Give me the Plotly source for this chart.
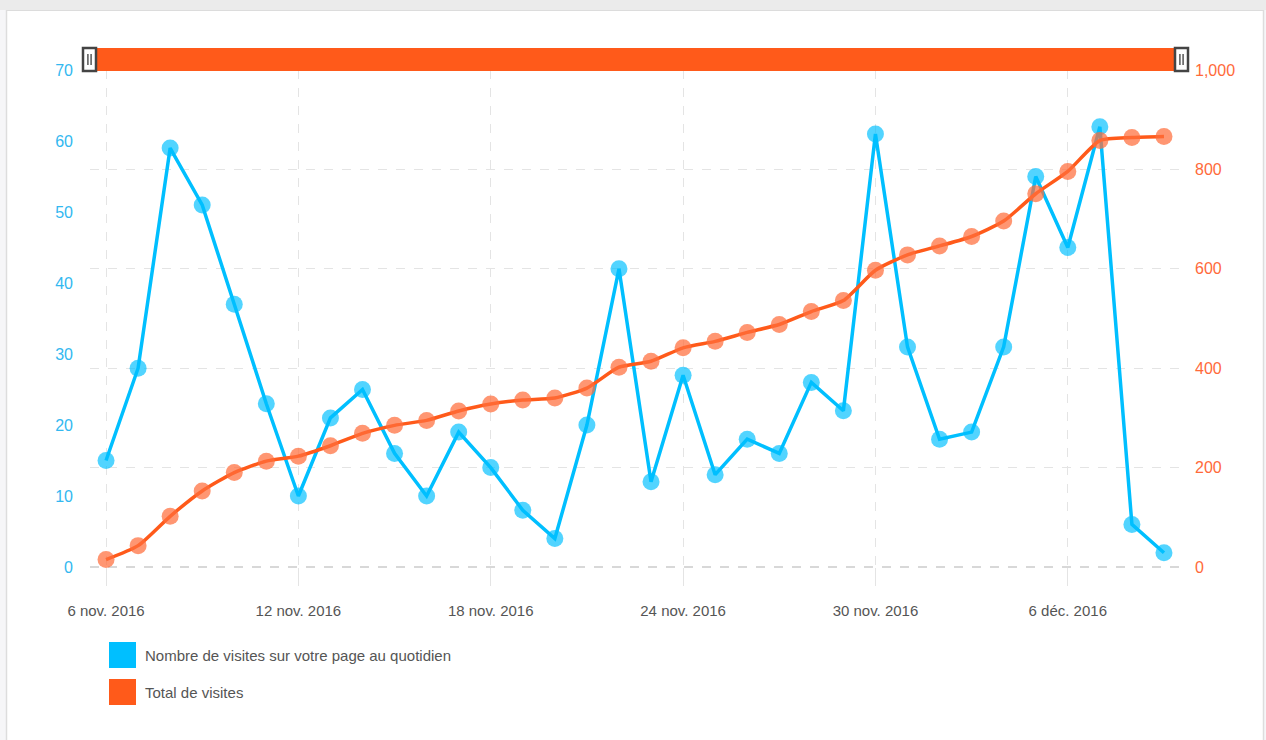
import plotly.graph_objects as go

# ---- data ----
dates = ["2016-11-06", "2016-11-07", "2016-11-08", "2016-11-09", "2016-11-10", "2016-11-11",
         "2016-11-12", "2016-11-13", "2016-11-14", "2016-11-15", "2016-11-16", "2016-11-17",
         "2016-11-18", "2016-11-19", "2016-11-20", "2016-11-21", "2016-11-22", "2016-11-23",
         "2016-11-24", "2016-11-25", "2016-11-26", "2016-11-27", "2016-11-28", "2016-11-29",
         "2016-11-30", "2016-12-01", "2016-12-02", "2016-12-03", "2016-12-04", "2016-12-05",
         "2016-12-06", "2016-12-07", "2016-12-08", "2016-12-09"]
daily_visits = [15, 28, 59, 51, 37, 23, 10, 21, 25, 16, 10, 19, 14, 8, 4, 20, 42, 12,
                27, 13, 18, 16, 26, 22, 61, 31, 18, 19, 31, 55, 45, 62, 6, 2]
total_visits = [15, 43, 102, 153, 190, 213, 223, 244, 269, 285, 295, 314, 328, 336, 340, 360,
                402, 414, 441, 454, 472, 488, 514, 536, 597, 628, 646, 665, 696, 751, 796,
                858, 864, 866]
x_tick_vals = ["2016-11-06", "2016-11-12", "2016-11-18", "2016-11-24", "2016-11-30", "2016-12-06"]
x_tick_text = ["6 nov. 2016", "12 nov. 2016", "18 nov. 2016", "24 nov. 2016", "30 nov. 2016", "6 déc. 2016"]
left_ticks = [0, 10, 20, 30, 40, 50, 60, 70]
right_ticks = [0, 200, 400, 600, 800, 1000]
series_names = ["Nombre de visites sur votre page au quotidien", "Total de visites"]

BLUE = "#00bfff"
ORANGE = "#ff5a1a"
FONT = "Liberation Sans, Arial, sans-serif"

W, H = 1266, 740
L, R, T, B = 90, 86, 70, 173
PW, PH = W - L - R, H - T - B


def px(x):
    return (x - L) / PW


def py(y):
    return (H - B - y) / PH


fig = go.Figure()
fig.add_trace(go.Scatter(
    x=dates, y=daily_visits, name=series_names[0], yaxis="y",
    mode="lines+markers", cliponaxis=False,
    line=dict(color=BLUE, width=3.5),
    marker=dict(size=17, color="rgba(0,191,255,0.68)", line=dict(width=0)),
    showlegend=False))
fig.add_trace(go.Scatter(
    x=dates, y=total_visits, name=series_names[1], yaxis="y2",
    mode="lines+markers", cliponaxis=False,
    line=dict(color=ORANGE, width=3.5, shape="spline", smoothing=0.6),
    marker=dict(size=17, color="rgba(255,110,60,0.72)", line=dict(width=0)),
    showlegend=False))

shapes = []
# page frame
shapes.append(dict(type="rect", xref="paper", yref="paper", x0=px(0), x1=px(W), y0=py(10), y1=py(0),
                   fillcolor="#ebebeb", line=dict(width=0), layer="below"))
shapes.append(dict(type="line", xref="paper", yref="paper", x0=px(0), x1=px(W), y0=py(10.5), y1=py(10.5),
                   line=dict(color="#dcdcdc", width=1), layer="below"))
shapes.append(dict(type="rect", xref="paper", yref="paper", x0=px(0), x1=px(6), y0=py(H), y1=py(10),
                   fillcolor="#f6f6f8", line=dict(width=0), layer="below"))
shapes.append(dict(type="line", xref="paper", yref="paper", x0=px(6.5), x1=px(6.5), y0=py(H), y1=py(10),
                   line=dict(color="#dddddd", width=1.5), layer="below"))
shapes.append(dict(type="rect", xref="paper", yref="paper", x0=px(1264), x1=px(W), y0=py(H), y1=py(10),
                   fillcolor="#f6f6f8", line=dict(width=0), layer="below"))
shapes.append(dict(type="line", xref="paper", yref="paper", x0=px(1263.5), x1=px(1263.5), y0=py(H), y1=py(10),
                   line=dict(color="#dddddd", width=1.5), layer="below"))
# baseline dashed
shapes.append(dict(type="line", xref="paper", yref="paper", x0=0, x1=1, y0=0, y1=0,
                   line=dict(color="#cccccc", width=1.5, dash="dash"), layer="below"))
# navigator bar
shapes.append(dict(type="rect", xref="paper", yref="paper", x0=px(90), x1=px(1182), y0=py(71), y1=py(48),
                   fillcolor=ORANGE, line=dict(width=0), layer="above"))
for hx in (89.5, 1181.5):
    shapes.append(dict(type="rect", xref="paper", yref="paper", x0=px(hx - 6.5), x1=px(hx + 6.5),
                       y0=py(71), y1=py(48), fillcolor="#ffffff",
                       line=dict(color="#444444", width=2.5), layer="above"))
    for dx in (-1.6, 1.6):
        shapes.append(dict(type="line", xref="paper", yref="paper", x0=px(hx + dx), x1=px(hx + dx),
                           y0=py(65), y1=py(54), line=dict(color="#555555", width=1.5), layer="above"))
# legend squares
legend_colors = [BLUE, ORANGE]
legend_y = [655, 692]
annotations = []
for c, ly, name in zip(legend_colors, legend_y, series_names):
    shapes.append(dict(type="rect", xref="paper", yref="paper", x0=px(109), x1=px(136),
                       y0=py(ly + 13), y1=py(ly - 13), fillcolor=c, line=dict(width=0)))
    annotations.append(dict(xref="paper", yref="paper", x=px(143), y=py(ly), text=name,
                            showarrow=False, xanchor="left", yanchor="middle",
                            font=dict(family=FONT, size=15, color="#555555")))

fig.update_layout(
    width=W, height=H,
    margin=dict(l=L, r=R, t=T, b=B, pad=0),
    paper_bgcolor="white", plot_bgcolor="white",
    font=dict(family=FONT, size=15, color="#666666"),
    showlegend=False,
    shapes=shapes, annotations=annotations,
    xaxis=dict(
        type="date", range=["2016-11-05 12:00", "2016-12-09 12:00"],
        tickvals=x_tick_vals, ticktext=x_tick_text,
        showgrid=True, gridcolor="#e4e4e4", griddash="dash", gridwidth=1.3,
        ticks="outside", ticklen=18, tickcolor="#e4e4e4", tickwidth=1.3,
        ticklabelstandoff=12,
        tickfont=dict(family=FONT, size=15, color="#555555"),
        showline=False, zeroline=False, fixedrange=True),
    yaxis=dict(
        range=[0, 70], tickvals=left_ticks, showgrid=False, zeroline=False,
        showline=False, ticklabelstandoff=16,
        tickfont=dict(family=FONT, size=16, color="#33b8f0")),
    yaxis2=dict(
        range=[0, 1000], tickvals=right_ticks, tickformat=",", overlaying="y", side="right",
        showgrid=True, gridcolor="#e4e4e4", griddash="dash", gridwidth=1.3,
        zeroline=False, showline=False, ticklabelstandoff=14,
        tickfont=dict(family=FONT, size=16, color="#ff6a3a")),
)

fig.write_html("out.html", config={"displayModeBar": False},
               post_script="document.body.style.margin='0';document.body.style.overflow='hidden';")
